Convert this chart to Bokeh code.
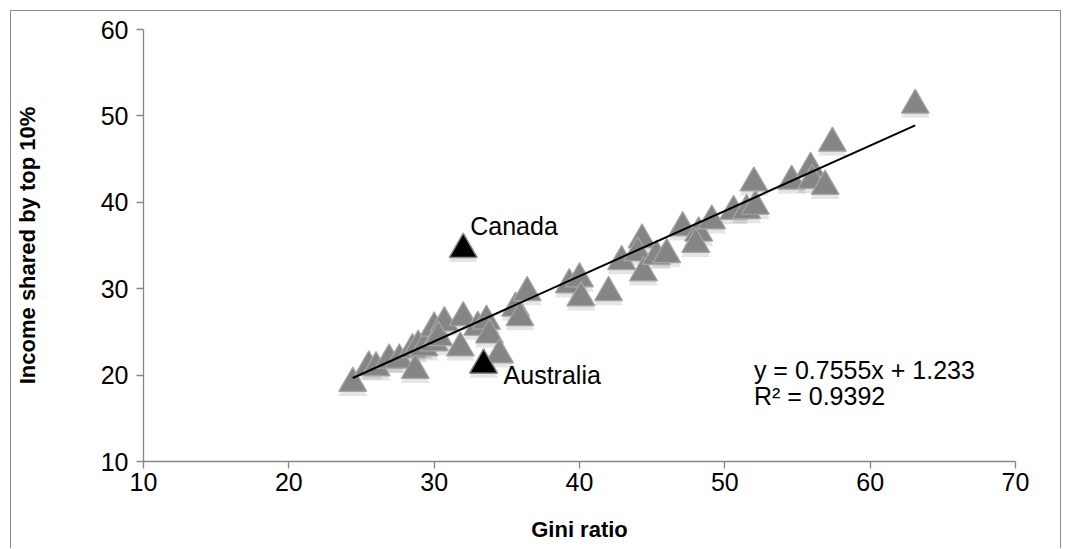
from bokeh.plotting import figure
from bokeh.models import Range1d, Label, FixedTicker, ColumnDataSource
from bokeh.transform import dodge
from bokeh.embed import file_html
from bokeh.resources import INLINE

# ---- data ----
gini = [24.4, 25.5, 26.0, 26.9, 27.6, 28.5, 28.7, 28.9, 29.3, 30.0,
        30.0, 30.7, 30.3, 31.8, 32.0, 33.0, 33.6, 33.8, 34.5, 35.6,
        35.9, 36.4, 39.3, 40.0, 40.1, 42.0, 42.9, 44.3, 44.0, 44.4,
        45.3, 46.0, 47.1, 48.2, 48.0, 49.1, 50.6, 51.5, 52.0, 52.1,
        54.6, 55.9, 56.0, 56.9, 57.4, 63.1]
top10 = [19.5, 21.4, 21.3, 22.2, 22.2, 23.4, 21.0, 23.8, 23.6, 25.9,
         24.2, 26.5, 24.8, 23.6, 27.1, 26.0, 26.7, 25.1, 22.8, 28.2,
         27.1, 30.0, 30.9, 31.6, 29.4, 30.0, 33.6, 36.1, 34.6, 32.3,
         34.2, 34.4, 37.5, 36.9, 35.6, 38.3, 39.4, 39.5, 42.7, 40.0,
         42.9, 44.4, 43.0, 42.3, 47.3, 51.7]

hl_names = ["Canada", "Australia"]
hl_gini = [32.0, 33.4]
hl_top10 = [35.0, 21.6]

slope = 0.7555
intercept = 1.233
r2 = 0.9392

x_ticks = [10, 20, 30, 40, 50, 60, 70]
y_ticks = [10, 20, 30, 40, 50, 60]

x_title = "Gini ratio"
y_title = "Income shared by top 10%"

FONT = "Liberation Sans"
TXT = "25px"

p = figure(width=1051, height=538, x_range=Range1d(10, 70), y_range=Range1d(10, 60),
           output_backend="svg", toolbar_location=None,
           min_border_left=132, min_border_right=47, min_border_top=18, min_border_bottom=88)
p.styles = {"margin-left": "10px", "margin-top": "10px",
            "border-left": "1px solid #8c8c8c", "border-top": "1px solid #8c8c8c",
            "border-right": "1px solid #8c8c8c"}
p.xgrid.visible = False
p.ygrid.visible = False
p.outline_line_color = None
p.background_fill_color = "white"
p.border_fill_color = "white"

for ax, ticks in ((p.xaxis, x_ticks), (p.yaxis, y_ticks)):
    ax.ticker = FixedTicker(ticks=ticks)
    ax.axis_line_color = "#868686"
    ax.axis_line_width = 1.3
    ax.major_tick_line_color = "#868686"
    ax.major_tick_line_width = 1.3
    ax.major_tick_out = 7
    ax.major_tick_in = 0
    ax.minor_tick_line_color = None
    ax.major_label_text_font = FONT
    ax.major_label_text_font_size = TXT
    ax.major_label_text_color = "black"
    ax.axis_label_text_font = FONT
    ax.axis_label_text_font_size = "22px"
    ax.axis_label_text_font_style = "bold"
    ax.axis_label_text_color = "black"

p.xaxis.axis_label = x_title
p.yaxis.axis_label = y_title
p.xaxis.major_label_standoff = 4
p.yaxis.major_label_standoff = 8
p.xaxis.axis_label_standoff = 23
p.yaxis.axis_label_standoff = 58

src = ColumnDataSource(dict(x=gini, y=top10))
hsrc = ColumnDataSource(dict(x=hl_gini, y=hl_top10, name=hl_names))

# shadows
for s in (src, hsrc):
    p.scatter(x="x", y=dodge("y", -0.95, range=p.y_range), source=s, marker="triangle",
              size=29, fill_color="black", fill_alpha=0.10, line_color=None)

# gray triangles
p.scatter(x="x", y=dodge("y", -0.45, range=p.y_range), source=src, marker="triangle",
          size=28, fill_color="#858585", line_color="#a6a6a6", line_width=1.2)

# trend line
xl = [min(gini), max(gini)]
yl = [slope * v + intercept for v in xl]
p.line(xl, yl, line_color="black", line_width=2)

# highlighted countries
p.scatter(x="x", y=dodge("y", -0.45, range=p.y_range), source=hsrc, marker="triangle",
          size=28, fill_color="black", line_color="#8c8c8c", line_width=1.5)

p.add_layout(Label(x=hl_gini[0], y=hl_top10[0], text=hl_names[0], x_offset=7, y_offset=6,
                   text_font=FONT, text_font_size=TXT, text_color="black"))
p.add_layout(Label(x=hl_gini[1], y=hl_top10[1], text=hl_names[1], x_offset=20, y_offset=-28,
                   text_font=FONT, text_font_size=TXT, text_color="black"))

p.add_layout(Label(x=52.0, y=19.0, text=f"y = {slope}x + {intercept}",
                   text_font=FONT, text_font_size=TXT, text_color="black"))
p.add_layout(Label(x=52.0, y=16.0, text=f"R² = {r2}",
                   text_font=FONT, text_font_size=TXT, text_color="black"))

open("out.html", "w").write(file_html(p, INLINE))
